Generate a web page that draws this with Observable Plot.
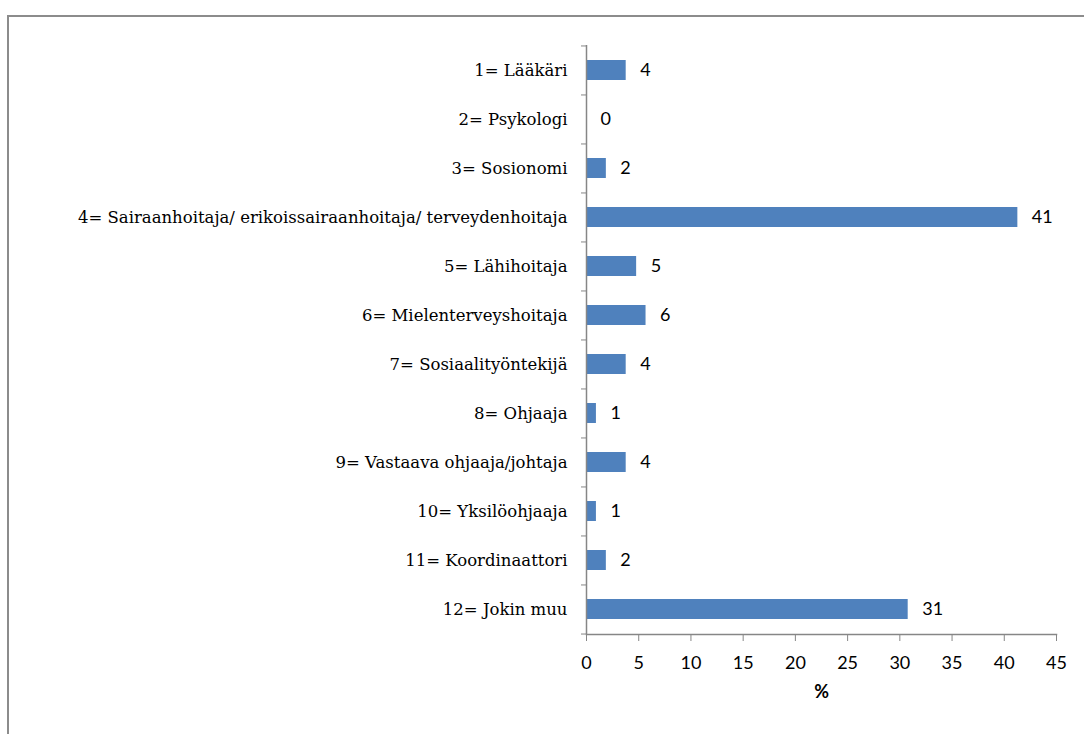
<!DOCTYPE html>
<html>
<head>
<meta charset="utf-8">
<script src="https://cdn.jsdelivr.net/npm/d3@7"></script>
<script src="https://cdn.jsdelivr.net/npm/@observablehq/plot@0.6"></script>
<style>
  html, body { margin: 0; padding: 0; background: #fff; }
  #wrap { position: relative; width: 1084px; height: 734px; overflow: hidden; }
  #border { position: absolute; left: 7px; top: 15px; width: 1200px; height: 800px;
            border-top: 2px solid #8c8c8c; border-left: 2px solid #8c8c8c; }
  #chart { position: absolute; left: 0; top: 0; }
</style>
</head>
<body>
<div id="wrap"><div id="border"></div><div id="chart"></div></div>
<script>
const categories = [
  "1= Lääkäri",
  "2= Psykologi",
  "3= Sosionomi",
  "4= Sairaanhoitaja/ erikoissairaanhoitaja/ terveydenhoitaja",
  "5= Lähihoitaja",
  "6= Mielenterveyshoitaja",
  "7= Sosiaalityöntekijä",
  "8= Ohjaaja",
  "9= Vastaava ohjaaja/johtaja",
  "10= Yksilöohjaaja",
  "11= Koordinaattori",
  "12= Jokin muu"
];
const values = [3.8, 0, 1.9, 41.3, 4.8, 5.7, 3.8, 0.95, 3.8, 0.95, 1.9, 30.8];
const valueLabels = ["4", "0", "2", "41", "5", "6", "4", "1", "4", "1", "2", "31"];
const xTicks = [0, 5, 10, 15, 20, 25, 30, 35, 40, 45];
const xLabel = "%";

const data = categories.map((c, i) => ({cat: c, value: values[i], label: valueLabels[i]}));

const W = 1084, H = 734, mt = 45, mb = 100, ml = 586, mr = 28;
const step = (H - mt - mb) / categories.length;
const axisGray = "#868686";
const sans = "Lato";
const serif = "DejaVu Serif";

const chart = Plot.plot({
  width: W, height: H,
  marginTop: mt, marginBottom: mb, marginLeft: ml, marginRight: mr,
  style: {background: "transparent", color: "#000", overflow: "visible"},
  x: {domain: [0, 45], ticks: xTicks},
  y: {domain: categories, paddingInner: 0.6, paddingOuter: 0.3},
  marks: [
    Plot.barX(data, {x: "value", y: "cat", fill: "#4F81BD"}),
    Plot.ruleX([0], {stroke: axisGray, strokeWidth: 1.5}),
    Plot.frame({anchor: "bottom", stroke: axisGray, strokeWidth: 1.5}),
    Plot.axisY({tickSize: 0, tickPadding: 19, fontFamily: serif, fontSize: 16.5, fill: "#000", label: null}),
    Plot.axisY({tickSize: 5, text: null, dy: -step / 2, stroke: axisGray, label: null}),
    Plot.axisY({ticks: [categories[categories.length - 1]], tickSize: 5, text: null, dy: step / 2, stroke: axisGray, label: null}),
    Plot.axisX({ticks: xTicks, tickSize: 7, tickPadding: 15, stroke: axisGray, fill: "#000",
                fontFamily: sans, fontSize: 18, label: null}),
    Plot.text([xLabel], {text: d => d, frameAnchor: "bottom", dy: 63, fontFamily: sans,
                fontSize: 18, fontWeight: "bold", fill: "#000"}),
    Plot.text(data, {x: "value", y: "cat", text: "label", textAnchor: "start", dx: 14,
                fontFamily: sans, fontSize: 18, fill: "#000"})
  ]
});
document.getElementById("chart").appendChild(chart);
</script>
</body>
</html>
